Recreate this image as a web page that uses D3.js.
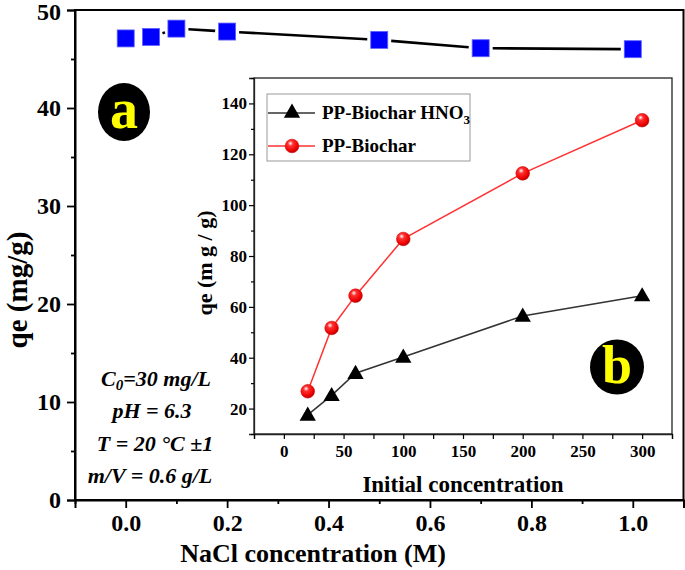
<!DOCTYPE html>
<html>
<head>
<meta charset="utf-8">
<script src="https://cdn.jsdelivr.net/npm/d3@7"></script>
<style>
  html, body { margin: 0; padding: 0; background: #fff; }
  svg { display: block; }
  svg text { font-family: "Liberation Serif", "Times New Roman", Tinos, Times, "DejaVu Serif", serif !important; font-weight: bold; }
</style>
</head>
<body>
<script>
// ---- Data (a): effect of NaCl concentration ----
const naclConc = [0, 0.05, 0.1, 0.2, 0.5, 0.7, 1.0];
const qeNacl = [47.1, 47.25, 48.1, 47.8, 46.95, 46.1, 46.0];
const naclTicks = [0.0, 0.2, 0.4, 0.6, 0.8, 1.0];
const qeTicksA = [0, 10, 20, 30, 40, 50];

// ---- Data (b): effect of initial concentration ----
const initConc = [20, 40, 60, 100, 200, 300];
const qeHNO3 = [17.5, 25.2, 33.9, 40.3, 56.4, 64.4];
const qeBiochar = [26.8, 51.7, 64.4, 86.7, 112.5, 133.4];
const initTicks = [0, 50, 100, 150, 200, 250, 300];
const qeTicksB = [20, 40, 60, 80, 100, 120, 140];

const annotations = ["pH = 6.3", "T = 20 °C ±1", "m/V = 0.6 g/L"];

const W = 685, H = 570;
const svg = d3.select("body").append("svg").attr("width", W).attr("height", H);

const defs = svg.append("defs");
const grad = defs.append("radialGradient").attr("id", "sphere")
  .attr("cx", "40%").attr("cy", "35%").attr("r", "65%").attr("fx", "38%").attr("fy", "30%");
grad.append("stop").attr("offset", "0%").attr("stop-color", "#ffffff");
grad.append("stop").attr("offset", "30%").attr("stop-color", "#ff3030");
grad.append("stop").attr("offset", "80%").attr("stop-color", "#ee0000");
grad.append("stop").attr("offset", "100%").attr("stop-color", "#b00000");

// ================= Main chart (a) =================
const xA = d3.scaleLinear().domain([-0.1, 1.1]).range([75, 683.5]);
const yA = d3.scaleLinear().domain([0, 50]).range([500, 10]);

const gA = svg.append("g");
gA.append("rect").attr("x", 75).attr("y", 10).attr("width", 683.5 - 75).attr("height", 490)
  .attr("fill", "none").attr("stroke", "#000").attr("stroke-width", 2);

const yAxisA = d3.axisLeft(yA).tickValues(d3.range(0, 51, 5)).tickSize(8)
  .tickFormat(d => qeTicksA.includes(d) ? d : "");
const gyA = gA.append("g").attr("transform", "translate(75,0)").call(yAxisA);
gyA.select(".domain").attr("stroke-width", 2);
gyA.selectAll(".tick line").attr("stroke-width", 1.8)
  .attr("x2", d => qeTicksA.includes(d) ? -8 : -4);
gyA.selectAll(".tick text").attr("font-size", 24).attr("x", -14)
  .attr("dy", d => d === 50 ? "0.4em" : "0.32em");

const xAxisA = d3.axisBottom(xA).tickValues(d3.range(-0.1, 1.11, 0.1).map(v => +v.toFixed(2)))
  .tickSize(8).tickFormat(d => naclTicks.some(t => Math.abs(t - d) < 1e-9) ? d3.format(".1f")(d) : "");
const gxA = gA.append("g").attr("transform", "translate(0,500)").call(xAxisA);
gxA.select(".domain").attr("stroke-width", 2);
gxA.selectAll(".tick line").attr("stroke-width", 1.8)
  .attr("y2", d => naclTicks.some(t => Math.abs(t - d) < 1e-9) ? 8 : 4);
gxA.selectAll(".tick text").attr("font-size", 24).attr("y", 14);
gA.selectAll(".domain").attr("stroke", "#000");

gA.append("text").attr("transform", "translate(27,290) rotate(-90)").attr("text-anchor", "middle")
  .attr("font-size", 29).text("qe (mg/g)");
gA.append("text").attr("x", 313).attr("y", 562).attr("text-anchor", "middle")
  .attr("font-size", 26).text("NaCl concentration (M)");

// line with gaps near markers (Origin style)
const ptsA = naclConc.map((c, i) => [xA(c), yA(qeNacl[i])]);
const gap = 12;
for (let i = 0; i < ptsA.length - 1; i++) {
  const [x1, y1] = ptsA[i], [x2, y2] = ptsA[i + 1];
  const L = Math.hypot(x2 - x1, y2 - y1);
  if (L <= 2 * gap + 2) continue;
  const ux = (x2 - x1) / L, uy = (y2 - y1) / L;
  gA.append("line").attr("x1", x1 + ux * gap).attr("y1", y1 + uy * gap)
    .attr("x2", x2 - ux * gap).attr("y2", y2 - uy * gap)
    .attr("stroke", "#000").attr("stroke-width", 2.6);
}
gA.selectAll("rect.sq").data(ptsA).join("rect").attr("class", "sq")
  .attr("x", d => d[0] - 8.5).attr("y", d => d[1] - 8.5).attr("width", 17).attr("height", 17)
  .attr("fill", "#0000ff").attr("stroke", "#6060ff").attr("stroke-width", 0.8);

// badge a
gA.append("ellipse").attr("cx", 124).attr("cy", 112).attr("rx", 26).attr("ry", 29).attr("fill", "#000");
gA.append("text").attr("x", 124).attr("y", 128).attr("text-anchor", "middle")
  .attr("font-size", 56).style("fill", "#ffff00").text("a");

// annotations
const ann = gA.append("g");
const t0 = ann.append("text").attr("x", 156).attr("y", 386).attr("text-anchor", "middle")
  .attr("font-size", 22).style("font-style", "italic");
t0.append("tspan").text("C");
t0.append("tspan").attr("font-size", 15).attr("dy", 4).text("0");
t0.append("tspan").attr("dy", -4).text("=30 mg/L");
const annX = [152, 155, 150];
const annY = [418, 451, 483];
annotations.forEach((s, i) => {
  ann.append("text").attr("x", annX[i]).attr("y", annY[i]).attr("text-anchor", "middle")
    .attr("font-size", 22).style("font-style", "italic").text(s);
});

// ================= Inset chart (b) =================
const xB = d3.scaleLinear().domain([-25, 325]).range([254, 672]);
const yB = d3.scaleLinear().domain([10, 150]).range([434, 78]);
const gB = svg.append("g");
gB.append("rect").attr("x", 254).attr("y", 78).attr("width", 672 - 254).attr("height", 434 - 78)
  .attr("fill", "#fff").attr("stroke", "#222").attr("stroke-width", 1.3);

const yAxisB = d3.axisLeft(yB).tickValues(d3.range(10, 151, 10)).tickSize(5)
  .tickFormat(d => qeTicksB.includes(d) ? d : "");
const gyB = gB.append("g").attr("transform", "translate(254,0)").call(yAxisB);
gyB.selectAll(".tick line").attr("stroke-width", 1.2).attr("x2", d => qeTicksB.includes(d) ? -5 : -3);
gyB.selectAll(".tick text").attr("font-size", 17).attr("x", -7);

const xAxisB = d3.axisBottom(xB).tickValues(d3.range(-25, 326, 25)).tickSize(5)
  .tickFormat(d => initTicks.includes(d) ? d : "");
const gxB = gB.append("g").attr("transform", "translate(0,434)").call(xAxisB);
gxB.selectAll(".tick line").attr("stroke-width", 1.2);
gxB.selectAll(".tick text").attr("font-size", 17).attr("y", 11);
gB.selectAll(".domain").attr("stroke", "#222").attr("stroke-width", 1.3);

gB.append("text").attr("transform", "translate(212,263) rotate(-90)").attr("text-anchor", "middle")
  .attr("font-size", 22).text("qe (m g / g)");
gB.append("text").attr("x", 463).attr("y", 492).attr("text-anchor", "middle")
  .attr("font-size", 23).text("Initial concentration");

const line = d3.line();
const ptsH = initConc.map((c, i) => [xB(c), yB(qeHNO3[i])]);
const ptsR = initConc.map((c, i) => [xB(c), yB(qeBiochar[i])]);
gB.append("path").attr("d", line(ptsH)).attr("fill", "none").attr("stroke", "#333").attr("stroke-width", 1.5);
gB.append("path").attr("d", line(ptsR)).attr("fill", "none").attr("stroke", "#ff3333").attr("stroke-width", 1.5);

const tri = d3.symbol().type(d3.symbolTriangle).size(115);
gB.selectAll("path.tri").data(ptsH).join("path").attr("class", "tri")
  .attr("d", tri).attr("transform", d => `translate(${d[0]},${d[1] + 1})`).attr("fill", "#000");
gB.selectAll("circle.sph").data(ptsR).join("circle").attr("class", "sph")
  .attr("cx", d => d[0]).attr("cy", d => d[1]).attr("r", 6.8)
  .attr("fill", "url(#sphere)").attr("stroke", "#d00000").attr("stroke-width", 0.6);

// legend
const lg = gB.append("g");
lg.append("rect").attr("x", 267).attr("y", 94).attr("width", 203).attr("height", 67)
  .attr("fill", "#fff").attr("stroke", "#999").attr("stroke-width", 1);
lg.append("line").attr("x1", 268).attr("x2", 315).attr("y1", 113).attr("y2", 113).attr("stroke", "#333").attr("stroke-width", 1.5);
lg.append("path").attr("d", tri).attr("transform", "translate(292,113)").attr("fill", "#000");
lg.append("line").attr("x1", 268).attr("x2", 315).attr("y1", 146).attr("y2", 146).attr("stroke", "#ff3333").attr("stroke-width", 1.5);
lg.append("circle").attr("cx", 292).attr("cy", 146).attr("r", 6.8).attr("fill", "url(#sphere)")
  .attr("stroke", "#d00000").attr("stroke-width", 0.6);
const l1 = lg.append("text").attr("x", 322).attr("y", 119).attr("font-size", 19);
l1.append("tspan").text("PP-Biochar HNO");
l1.append("tspan").attr("font-size", 13).attr("dy", 5).text("3");
lg.append("text").attr("x", 322).attr("y", 152).attr("font-size", 19).text("PP-Biochar");

// badge b
gB.append("ellipse").attr("cx", 617).attr("cy", 367).attr("rx", 27).attr("ry", 27.5).attr("fill", "#000");
gB.append("text").attr("x", 617).attr("y", 383).attr("text-anchor", "middle")
  .attr("font-size", 54).style("fill", "#ffff00").text("b");
</script>
</body>
</html>
